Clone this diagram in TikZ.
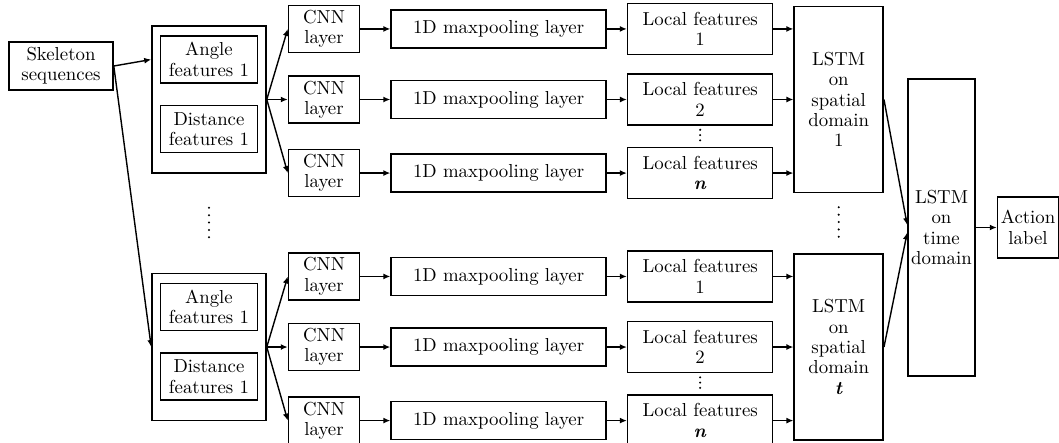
\documentclass[tikz,border=0pt]{standalone}
\usetikzlibrary{arrows.meta,positioning}

\begin{document}
\begin{tikzpicture}[
    x=0.02cm,y=-0.02cm,
    font=\fontsize{10.7}{11.6}\selectfont,
    box/.style={draw,line width=0.9pt,align=center,inner sep=1pt},
    grp/.style={box,minimum width=2.28cm,minimum height=2.94cm},
    feat/.style={box,minimum width=1.94cm,minimum height=0.94cm},
    cnn/.style={box,minimum width=1.42cm,minimum height=0.94cm},
    pool/.style={box,minimum width=4.3cm,minimum height=0.76cm},
    loc/.style={box,minimum width=2.9cm,minimum height=1.02cm},
    lstm/.style={box,minimum width=1.78cm,minimum height=3.72cm},
    arr/.style={-{Latex[length=1.4mm,width=1.2mm]},line width=0.8pt},
    vdots/.style={line width=1.3pt,line cap=round,dash pattern=on 0pt off 4.2pt}
  ]
    \useasboundingbox (0,0) rectangle (1059,443);
    \node[box,minimum width=2.08cm,minimum height=0.96cm] (skel) at (61,66) {Skeleton\\sequences};

    % feature groups
    \node[grp] (grp1) at (209,99.5) {};
    \node[feat,below=0.2cm of grp1.north] (ang1) {Angle\\features 1};
    \node[feat,below=0.42cm of ang1] (dist1) {Distance\\features 1};
    \node[grp,below=1.98cm of grp1] (grp2) {};
    \node[feat,below=0.2cm of grp2.north] (ang2) {Angle\\features 1};
    \node[feat,below=0.42cm of ang2] (dist2) {Distance\\features 1};

    % first block of rows
    \node[cnn,right=0.42cm of grp1] (cnn12) {CNN\\layer};
    \node[cnn,above=0.44cm of cnn12] (cnn11) {CNN\\layer};
    \node[cnn,below=0.5cm of cnn12] (cnn13) {CNN\\layer};
    \node[pool,right=0.6cm of cnn11] (mp11) {1D maxpooling layer};
    \node[pool,right=0.6cm of cnn12] (mp12) {1D maxpooling layer};
    \node[pool,right=0.6cm of cnn13] (mp13) {1D maxpooling layer};
    \node[loc,right=0.4cm of mp11] (loc11) {Local features\\1};
    \node[loc,right=0.4cm of mp12] (loc12) {Local features\\2};
    \node[loc,right=0.4cm of mp13] (loc13) {Local features\\\textbf{\textit{n}}};
    \node[lstm,right=0.4cm of loc12] (sp1) {LSTM\\on\\spatial\\domain\\1};

    % second block of rows
    \node[cnn,right=0.42cm of grp2] (cnn22) {CNN\\layer};
    \node[cnn,above=0.44cm of cnn22] (cnn21) {CNN\\layer};
    \node[cnn,below=0.5cm of cnn22] (cnn23) {CNN\\layer};
    \node[pool,right=0.6cm of cnn21] (mp21) {1D maxpooling layer};
    \node[pool,right=0.6cm of cnn22] (mp22) {1D maxpooling layer};
    \node[pool,right=0.6cm of cnn23] (mp23) {1D maxpooling layer};
    \node[loc,right=0.4cm of mp21] (loc21) {Local features\\1};
    \node[loc,right=0.4cm of mp22] (loc22) {Local features\\2};
    \node[loc,right=0.4cm of mp23] (loc23) {Local features\\\textbf{\textit{n}}};
    \node[lstm,right=0.4cm of loc22] (sp2) {LSTM\\on\\spatial\\domain\\\textbf{\textit{t}}};

    \node[box,minimum width=1.34cm,minimum height=5.94cm] (time) at (941.5,227.5) {LSTM\\on\\time\\domain};
    \node[box,minimum width=1.22cm,minimum height=1.22cm,right=0.42cm of time] (act) {Action\\label};

    \draw[vdots,shorten <=0.68cm,shorten >=0.64cm] (grp1.south) -- (grp2.north);
    \draw[vdots,shorten <=0.28cm,shorten >=0.24cm] (sp1.south) -- (sp2.north);
    \draw[vdots,dash pattern=on 0pt off 3pt,shorten <=0.08cm,shorten >=0.06cm] (loc12.south) -- (loc13.north);
    \draw[vdots,dash pattern=on 0pt off 3pt,shorten <=0.08cm,shorten >=0.06cm] (loc22.south) -- (loc23.north);

    \draw[arr] (skel.east) -- (ang1.west -| grp1.west);
    \draw[arr] (skel.east) -- (grp2.west);
    \draw[arr] (grp1.east) -- (cnn11.west);
    \draw[arr] (grp1.east) -- (cnn12.west);
    \draw[arr] (grp1.east) -- (cnn13.west);
    \draw[arr] (grp2.east) -- (cnn21.west);
    \draw[arr] (grp2.east) -- (cnn22.west);
    \draw[arr] (grp2.east) -- (cnn23.west);
    \draw[arr] (cnn11) -- (mp11);
    \draw[arr] (cnn12) -- (mp12);
    \draw[arr] (cnn13) -- (mp13);
    \draw[arr] (cnn21) -- (mp21);
    \draw[arr] (cnn22) -- (mp22);
    \draw[arr] (cnn23) -- (mp23);
    \draw[arr] (mp11) -- (loc11);
    \draw[arr] (mp12) -- (loc12);
    \draw[arr] (mp13) -- (loc13);
    \draw[arr] (mp21) -- (loc21);
    \draw[arr] (mp22) -- (loc22);
    \draw[arr] (mp23) -- (loc23);
    \draw[arr] (loc11.east) -- (loc11.east -| sp1.west);
    \draw[arr] (loc12) -- (sp1);
    \draw[arr] (loc13.east) -- (loc13.east -| sp1.west);
    \draw[arr] (loc21.east) -- (loc21.east -| sp2.west);
    \draw[arr] (loc22) -- (sp2);
    \draw[arr] (loc23.east) -- (loc23.east -| sp2.west);
    \draw[arr] (sp1.east) -- ([yshift=0.05cm]time.west);
    \draw[arr] (sp2.east) -- ([yshift=-0.1cm]time.west);
    \draw[arr] (time) -- (act);
  \end{tikzpicture}
\end{document}
